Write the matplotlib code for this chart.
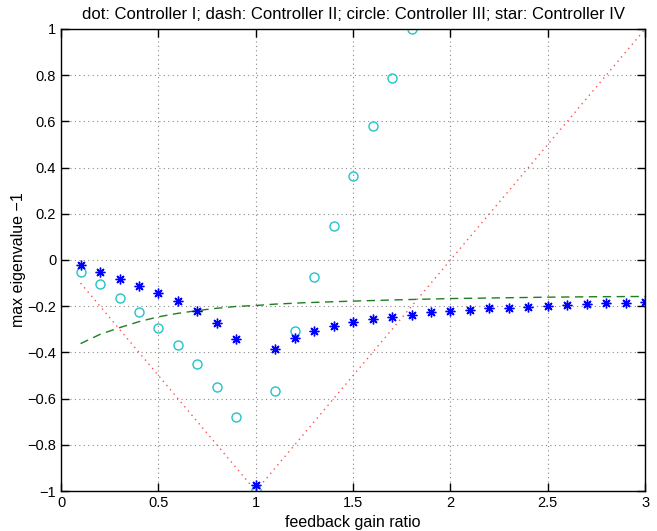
import matplotlib
matplotlib.use("Agg")
import matplotlib.pyplot as plt

# controller I (dotted): corner points of the V
ctrl1_x = [0.1, 1.0, 3.0]
ctrl1_y = [-0.1, -1.0, 1.0]

# controller II (dashed)
ctrl2_x = [0.1, 0.2, 0.3, 0.4, 0.5, 0.6, 0.7, 0.8, 0.9, 1.0, 1.1, 1.25, 1.5, 1.75, 2.0, 2.25, 2.5, 2.75, 3.0]
ctrl2_y = [-0.362, -0.322, -0.293, -0.267, -0.246, -0.231, -0.219, -0.209, -0.201, -0.197, -0.191, -0.185,
           -0.178, -0.172, -0.167, -0.164, -0.161, -0.159, -0.158]

# controller III (circles)
ctrl3_x = [0.1, 0.2, 0.3, 0.4, 0.5, 0.6, 0.7, 0.8, 0.9, 1.0, 1.1, 1.2, 1.3, 1.4, 1.5, 1.6, 1.7, 1.8]
ctrl3_y = [-0.052, -0.105, -0.164, -0.224, -0.293, -0.366, -0.451, -0.55, -0.681, -0.995,
           -0.566, -0.308, -0.075, 0.147, 0.365, 0.578, 0.787, 1.0]

# controller IV (stars)
ctrl4_x = [0.1, 0.2, 0.3, 0.4, 0.5, 0.6, 0.7, 0.8, 0.9, 1.0, 1.1, 1.2, 1.3, 1.4, 1.5,
           1.6, 1.7, 1.8, 1.9, 2.0, 2.1, 2.2, 2.3, 2.4, 2.5, 2.6, 2.7, 2.8, 2.9, 3.0]
ctrl4_y = [-0.022, -0.05, -0.082, -0.111, -0.142, -0.178, -0.22, -0.272, -0.344, -0.975,
           -0.387, -0.336, -0.308, -0.286, -0.269, -0.256, -0.246, -0.237, -0.227, -0.221,
           -0.215, -0.209, -0.206, -0.202, -0.198, -0.193, -0.191, -0.188, -0.185, -0.183]

plt.rcParams["font.family"] = ["Liberation Sans", "DejaVu Sans"]
plt.rcParams["font.size"] = 10.5

fig = plt.figure(figsize=(6.57, 5.31), dpi=100)
ax = fig.add_axes([0.093, 0.0753, 0.889, 0.8702])

ax.plot(ctrl1_x, ctrl1_y, color="#ff5050", linestyle=(0, (1, 3)), linewidth=1.0)
ax.plot(ctrl2_x, ctrl2_y, color="#1f7f1f", linestyle=(0, (6, 4)), linewidth=1.0)
ax.plot(ctrl3_x, ctrl3_y, linestyle="none", marker="o", markersize=6.5,
        markerfacecolor="none", markeredgecolor="#22c4c8", markeredgewidth=1.0)
ax.plot(ctrl4_x, ctrl4_y, linestyle="none", marker=(8, 2, 0), markersize=7,
        color="blue", markeredgewidth=1.0)

ax.set_xlim(0, 3)
ax.set_ylim(-1, 1)
ax.set_xticks([0, 0.5, 1, 1.5, 2, 2.5, 3])
ax.set_xticklabels(["0", "0.5", "1", "1.5", "2", "2.5", "3"])
ax.set_yticks([-1, -0.8, -0.6, -0.4, -0.2, 0, 0.2, 0.4, 0.6, 0.8, 1])
ax.set_yticklabels(["\u22121", "\u22120.8", "\u22120.6", "\u22120.4", "\u22120.2", "0",
                    "0.2", "0.4", "0.6", "0.8", "1"])
ax.grid(True, color="#888888", linestyle=(0, (1, 3)), linewidth=0.8)
ax.tick_params(direction="in", top=True, right=True, length=6, width=1.0, labelsize=10.5)
for spine in ax.spines.values():
    spine.set_linewidth(1.0)

ax.set_xlabel("feedback gain ratio", fontsize=11.5, labelpad=4)
ax.set_ylabel("max eigenvalue \u22121", fontsize=11.5, labelpad=1)
ax.set_title("dot: Controller I; dash: Controller II; circle: Controller III; star: Controller IV",
             fontsize=12, pad=7)

fig.savefig("out.png", dpi=100)
